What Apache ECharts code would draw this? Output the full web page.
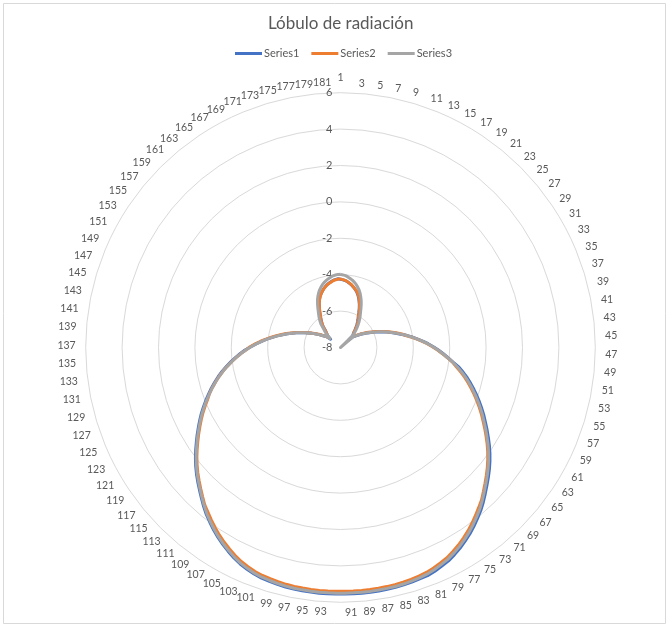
<!DOCTYPE html>
<html>
<head>
<meta charset="utf-8">
<title>Lóbulo de radiación</title>
<script src="https://cdn.jsdelivr.net/npm/echarts@6/dist/echarts.min.js"></script>
<style>
  html, body { margin: 0; padding: 0; background: #ffffff; }
  #chart { width: 670px; height: 628px; }
</style>
</head>
<body>
<div id="chart"></div>
<script>
// Angle categories 1..181 around the circle
const categories = Array.from({ length: 181 }, (_, i) => String(i + 1));

// Radial scale (dB)
const radialTicks = ['-8', '-6', '-4', '-2', '0', '2', '4', '6'];
const radialMin = -8;
const radialMax = 6;
const radialStep = 2;

const seriesNames = ['Series1', 'Series2', 'Series3'];

const series1 = [
  -4.25,-4.28,-4.31,-4.37,-4.44,-4.51,-4.60,-4.70,-4.80,-4.93,
  -5.08,-5.26,-5.44,-5.64,-5.85,-6.04,-6.18,-6.32,-6.47,-6.62,
  -6.77,-6.91,-7.00,-7.05,-7.41,-7.05,-7.00,-6.90,-6.76,-6.62,
  -6.47,-6.31,-6.14,-5.95,-5.75,-5.54,-5.32,-5.10,-4.86,-4.62,
  -4.31,-4.03,-3.76,-3.47,-3.18,-2.90,-2.62,-2.34,-2.05,-1.75,
  -1.40,-1.12,-0.84,-0.58,-0.32,-0.06,0.20,0.46,0.72,0.97,
  1.24,1.51,1.79,2.06,2.32,2.57,2.81,3.05,3.30,3.56,
  3.81,4.03,4.25,4.46,4.65,4.83,4.99,5.14,5.24,5.34,
  5.42,5.43,5.47,5.50,5.52,5.53,5.54,5.55,5.55,5.55,
  5.55,
  5.55,5.55,5.55,5.54,5.53,5.52,5.50,5.47,5.43,5.39,
  5.32,5.22,5.11,4.96,4.79,4.61,4.42,4.21,3.99,3.77,
  3.52,3.26,3.01,2.77,2.53,2.28,2.02,1.75,1.48,1.22,
  0.96,0.71,0.46,0.20,-0.06,-0.32,-0.57,-0.83,-1.09,-1.36,
  -1.64,-1.92,-2.20,-2.47,-2.75,-3.08,-3.36,-3.65,-3.93,-4.21,
  -4.47,-4.73,-4.98,-5.22,-5.45,-5.67,-5.88,-6.07,-6.25,-6.42,
  -6.57,-6.71,-6.85,-6.96,-7.06,-7.29,-7.05,-6.98,-6.88,-6.77,
  -6.52,-6.36,-6.20,-6.05,-5.89,-5.70,-5.50,-5.31,-5.14,-4.98,
  -4.87,-4.75,-4.64,-4.55,-4.47,-4.40,-4.34,-4.28,-4.25,-4.22
];

const series2 = [
  -4.24,-4.27,-4.30,-4.36,-4.43,-4.50,-4.59,-4.69,-4.77,-4.90,
  -5.05,-5.23,-5.41,-5.61,-5.82,-6.01,-6.10,-6.25,-6.41,-6.57,
  -6.73,-6.89,-6.95,-6.98,-7.17,-6.98,-6.92,-6.83,-6.69,-6.55,
  -6.40,-6.24,-6.07,-5.88,-5.68,-5.47,-5.25,-5.03,-4.79,-4.55,
  -4.36,-4.08,-3.81,-3.52,-3.23,-2.95,-2.67,-2.39,-2.10,-1.80,
  -1.55,-1.27,-0.99,-0.73,-0.47,-0.21,0.05,0.31,0.57,0.82,
  1.09,1.36,1.64,1.91,2.17,2.42,2.66,2.90,3.15,3.41,
  3.62,3.84,4.06,4.27,4.46,4.64,4.80,4.95,5.05,5.15,
  5.23,5.28,5.32,5.35,5.37,5.38,5.39,5.40,5.40,5.40,
  5.40,
  5.40,5.40,5.40,5.39,5.38,5.37,5.35,5.32,5.28,5.24,
  5.17,5.07,4.96,4.81,4.64,4.46,4.27,4.06,3.84,3.62,
  3.42,3.16,2.91,2.67,2.43,2.18,1.92,1.65,1.38,1.12,
  0.86,0.61,0.36,0.10,-0.16,-0.37,-0.62,-0.88,-1.14,-1.41,
  -1.69,-1.97,-2.25,-2.52,-2.80,-3.03,-3.31,-3.60,-3.88,-4.16,
  -4.42,-4.68,-4.93,-5.17,-5.40,-5.62,-5.83,-6.02,-6.20,-6.37,
  -6.52,-6.66,-6.82,-6.93,-7.03,-7.16,-7.03,-6.98,-6.86,-6.74,
  -6.50,-6.34,-6.19,-6.05,-5.89,-5.71,-5.52,-5.32,-5.15,-5.00,
  -4.86,-4.75,-4.65,-4.56,-4.48,-4.42,-4.36,-4.30,-4.27,-4.24
];

const series3 = [
  -3.98,-4.01,-4.04,-4.10,-4.17,-4.24,-4.33,-4.43,-4.55,-4.68,
  -4.83,-5.01,-5.19,-5.39,-5.60,-5.79,-5.95,-6.10,-6.26,-6.42,
  -6.58,-6.74,-6.90,-7.08,-8.00,-7.08,-6.97,-6.87,-6.73,-6.59,
  -6.44,-6.28,-6.11,-5.92,-5.72,-5.51,-5.29,-5.07,-4.83,-4.59,
  -4.34,-4.06,-3.79,-3.50,-3.21,-2.93,-2.65,-2.37,-2.08,-1.78,
  -1.49,-1.21,-0.93,-0.67,-0.41,-0.15,0.11,0.37,0.63,0.88,
  1.15,1.42,1.70,1.97,2.23,2.48,2.72,2.96,3.21,3.47,
  3.72,3.94,4.16,4.37,4.56,4.74,4.90,5.05,5.15,5.25,
  5.33,5.38,5.42,5.45,5.47,5.48,5.49,5.50,5.50,5.50,
  5.50,
  5.50,5.50,5.50,5.49,5.48,5.47,5.45,5.42,5.38,5.34,
  5.27,5.17,5.06,4.91,4.74,4.56,4.37,4.16,3.94,3.72,
  3.47,3.21,2.96,2.72,2.48,2.23,1.97,1.70,1.43,1.17,
  0.91,0.66,0.41,0.15,-0.11,-0.37,-0.62,-0.88,-1.14,-1.41,
  -1.69,-1.97,-2.25,-2.52,-2.80,-3.08,-3.36,-3.65,-3.93,-4.21,
  -4.47,-4.73,-4.98,-5.22,-5.45,-5.67,-5.88,-6.07,-6.25,-6.42,
  -6.57,-6.71,-6.85,-6.96,-7.06,-7.25,-7.08,-6.90,-6.74,-6.58,
  -6.32,-6.16,-6.00,-5.85,-5.69,-5.50,-5.30,-5.10,-4.93,-4.77,
  -4.63,-4.51,-4.40,-4.31,-4.23,-4.16,-4.10,-4.04,-4.01,-3.98
];

const colors = ['#4472C4', '#ED7D31', '#A5A5A5'];
const textColor = '#595959';
const gridColor = '#D9D9D9';
const fontFamily = 'Lato, "Open Sans", sans-serif';

// ECharts lays radar spokes out counter-clockwise, so spokes are listed as
// 1, 181, 180, ..., 2 to make the categories run clockwise from the top.
const spokeOrder = [0].concat(categories.map((_, i) => i).slice(1).reverse());
const bySpoke = (values) => spokeOrder.map((i) => values[i]);

// Only every other category is labelled; the first spoke carries the dB scale.
const indicators = spokeOrder.map((i) => {
  const ind = { name: i % 2 === 0 ? categories[i] : '', min: radialMin, max: radialMax };
  if (i === 0) {
    ind.axisLabel = { show: true };
  }
  return ind;
});

const chart = echarts.init(document.getElementById('chart'), null, { renderer: 'canvas' });

chart.setOption({
  backgroundColor: '#ffffff',
  animation: false,
  color: colors,
  title: {
    text: 'Lóbulo de radiación',
    left: 263,
    top: 10,
    textStyle: { color: textColor, fontSize: 17, fontWeight: 'normal', fontFamily: fontFamily }
  },
  legend: {
    data: seriesNames,
    top: 43,
    left: 230,
    icon: 'rect',
    itemWidth: 27,
    itemHeight: 3,
    itemGap: 12,
    textStyle: { color: textColor, fontSize: 11, fontFamily: fontFamily, padding: [0, 0, 0, -3] }
  },
  graphic: [{
    type: 'rect',
    silent: true,
    shape: { x: 3.5, y: 3.5, width: 662, height: 620 },
    style: { fill: 'none', stroke: gridColor, lineWidth: 1 }
  }],
  radar: {
    center: [340.5, 347.5],
    radius: 254.8,
    startAngle: 90,
    shape: 'circle',
    splitNumber: (radialMax - radialMin) / radialStep,
    indicator: indicators,
    nameGap: 10,
    axisName: { color: textColor, fontSize: 10.5, fontFamily: fontFamily },
    axisLine: { show: false },
    axisTick: { show: false },
    axisLabel: {
      show: false,
      color: textColor,
      fontSize: 11,
      fontFamily: fontFamily,
      margin: 8,
      formatter: function (v) {
        const idx = Math.round((v - radialMin) / radialStep);
        return radialTicks[idx] !== undefined ? radialTicks[idx] : '';
      }
    },
    splitLine: { show: true, lineStyle: { color: gridColor, width: 1 } },
    splitArea: { show: false }
  },
  series: [{
    type: 'radar',
    symbol: 'none',
    data: [
      { name: seriesNames[0], value: bySpoke(series1), lineStyle: { width: 3, color: colors[0] }, itemStyle: { color: colors[0] } },
      { name: seriesNames[1], value: bySpoke(series2), lineStyle: { width: 3, color: colors[1] }, itemStyle: { color: colors[1] } },
      { name: seriesNames[2], value: bySpoke(series3), lineStyle: { width: 3, color: colors[2] }, itemStyle: { color: colors[2] } }
    ]
  }]
});
</script>
</body>
</html>
